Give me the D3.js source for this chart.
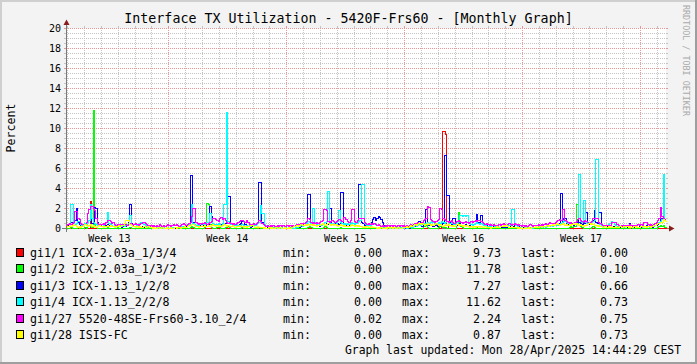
<!DOCTYPE html>
<html>
<head>
<meta charset="utf-8">
<script src="https://cdn.jsdelivr.net/npm/d3@7"></script>
<style>
  html, body { margin: 0; padding: 0; background: #f3f3f3; }
  svg { display: block; }
  text { font-family: "DejaVu Sans Mono", monospace; fill: #000; }
</style>
</head>
<body>
<svg width="697" height="364"></svg>
<script>
// 系列名・色・凡例の統計値
const seriesNames = ["gi1/1 ICX-2.03a_1/3/4", "gi1/2 ICX-2.03a_1/3/2", "gi1/3 ICX-1.13_1/2/8",
  "gi1/4 ICX-1.13_2/2/8", "gi1/27 5520-48SE-Frs60-3.10_2/4", "gi1/28 ISIS-FC"];
const seriesColors = ["#FF0000", "#00FF00", "#0000FF", "#00FFFF", "#FF00FF", "#FFFF00"];
const statMin = ["0.00", "0.00", "0.00", "0.00", "0.02", "0.00"];
const statMax = ["9.73", "11.78", "7.27", "11.62", "2.24", "0.87"];
const statLast = ["0.00", "0.10", "0.66", "0.73", "0.75", "0.73"];

// 軸の目盛り
const yTicks = [0, 2, 4, 6, 8, 10, 12, 14, 16, 18, 20];
const weekLabels = ["Week 13", "Week 14", "Week 15", "Week 16", "Week 17"];
const weekLabelDates = ["2025-03-26T12:00:00Z", "2025-04-02T12:00:00Z", "2025-04-09T12:00:00Z",
  "2025-04-16T12:00:00Z", "2025-04-23T12:00:00Z"];

// 表示期間（2時間ごとのデータ）
const startTime = new Date("2025-03-23T22:15:00Z");
const endTime = new Date("2025-04-28T13:02:00Z");
const stepHours = 2;

// 各インターフェースの値 (%)
const gi1_1 = [
  0, 0, 0, 0, 0, 0, 0, 0, 0, 0, 0, 0, 0, 0, 0, 0, 0, 2.7, 0, 0,
  0, 0, 0, 0, 0, 0, 0, 0, 0, 0, 0, 0, 0, 0, 0, 0, 0, 0, 0, 0,
  0, 0, 0, 0, 0, 0, 0, 0, 0, 0, 0, 0, 0, 0, 0, 0, 0, 0, 0, 0,
  0, 0, 0, 0, 0, 0, 0, 0, 0, 0, 0, 0, 0, 0, 0, 0, 0, 0, 0, 0,
  0, 0, 0, 0, 0, 0, 0, 0, 0, 0, 0, 0, 0, 0, 0, 0, 0, 0, 0, 0,
  0, 0, 0, 0, 0, 0, 0, 0, 0, 0, 0, 0, 0, 0, 0, 0, 0, 0, 0, 0,
  0, 0, 0, 0, 0, 0, 0, 0, 0, 0, 0, 0, 0, 0, 0, 0, 0, 0, 0, 0,
  0, 0, 0, 0, 0, 0, 0, 0, 0, 0, 0, 0, 0, 0, 0, 0, 0, 0, 0, 0,
  0, 0, 0, 0, 0, 0, 0, 0, 0, 0, 0, 0, 0, 0, 0, 0, 0, 0, 0, 0,
  0, 0, 0, 0, 0, 0, 0, 0, 0, 0, 0, 0, 0, 0, 0, 0, 0, 0, 0, 0,
  0, 0, 0, 0, 0, 0, 0, 0, 0, 0, 0, 0, 0, 0, 0, 0, 0, 0, 0, 0,
  0, 0, 0, 0, 0, 0, 0, 0, 0, 0, 0, 0, 0, 0, 0, 0, 0, 0, 0, 0,
  0, 0, 0, 0, 0, 0, 0, 0, 0, 0, 0, 0, 0, 0, 0, 0, 0, 0, 0, 0,
  0, 0, 0, 0, 0, 0, 0, 0.2, 9.7, 9.7, 9.4, 0.3, 0, 0, 0, 0, 0, 0, 0, 0,
  0, 0, 0, 0, 0, 0, 0, 0, 0, 0, 0, 0, 0, 0, 0, 0, 0, 0, 0, 0,
  0, 0, 0, 0, 0, 0, 0, 0, 0, 0, 0, 0, 0, 0, 0, 0, 0, 0, 0, 0,
  0, 0, 0, 0, 0, 0, 0, 0, 0, 0, 0, 0, 0, 0, 0, 0, 0, 0, 0, 0,
  0, 0, 0, 0, 0, 0, 0, 0, 0, 0, 0, 0, 0, 0, 0, 0, 0, 0, 0, 0,
  0, 0, 0, 0, 0, 0, 0, 0, 0, 0, 0, 0, 0, 0, 0, 0, 0, 0, 0, 0,
  0, 0, 0, 0, 0, 0, 0, 0, 0, 0, 0, 0, 0, 0, 0, 0, 0, 0, 0, 0,
  0, 0, 0, 0, 0, 0, 0, 0, 0, 0, 0, 0, 0, 0, 0, 0, 0, 0, 0, 0,
  0, 0, 0, 0, 0, 0, 0, 0];
const gi1_2 = [
  0, 0, 0, 0.1, 0, 0, 0, 0, 0.1, 0, 0, 0, 0, 0.1, 0, 0.2, 0.3, 0.2, 0.1, 11.8,
  0.3, 0.1, 0, 0, 0, 0, 0, 0, 0, 0.1, 0, 0, 0, 0, 0, 0, 0.1, 0, 0, 0,
  0, 0, 0, 0, 0, 0.1, 0, 0, 0, 0, 0, 0, 0, 0, 0, 0, 0, 0, 0, 0,
  0, 0, 0, 0, 0, 0, 0, 0, 0, 0, 0, 0, 0, 0, 0, 0, 0, 0, 0, 0,
  0, 0, 0, 0, 0, 0, 0, 0, 0.1, 0.2, 0.1, 0, 0, 0, 0, 0, 0, 0, 0.1, 0.3,
  2.5, 2.4, 0.4, 0.1, 0, 0, 0, 0.1, 0.1, 0.2, 0, 0, 0, 0.1, 0.1, 0.2, 0.1, 0, 0, 0,
  0, 0, 0, 0, 0, 0.1, 0, 0, 0, 0, 0, 0, 0, 0, 0, 0, 0, 0.1, 0, 0,
  0, 0, 0, 0, 0, 0, 0, 0, 0, 0, 0, 0, 0, 0, 0, 0, 0, 0, 0, 0,
  0, 0, 0, 0, 0, 0, 0, 0, 0, 0, 0, 0, 0.1, 0.2, 0.1, 0, 0, 0, 0, 0,
  0, 0, 0, 0.1, 0.2, 0.1, 0, 0, 0, 0, 0, 0, 0, 0, 0, 0.1, 0, 0, 0, 0,
  0, 0, 0, 0, 0, 0, 0, 0, 0, 0, 0, 0, 0, 0, 0, 0, 0, 0, 0, 0,
  0, 0, 0, 0, 0, 0, 0, 0, 0, 0, 0, 0, 0, 0, 0, 0, 0, 0, 0, 0,
  0, 0, 0, 0, 0, 0, 0, 0, 0, 0, 0, 0, 0, 0, 0.2, 0.2, 0.3, 0.1, 0, 0,
  0, 0, 0, 0, 0, 0.1, 0.2, 0.3, 0.1, 0.1, 0.1, 0, 0, 0, 0, 0, 0, 0, 0.4, 1.6,
  0.3, 0.2, 0.1, 0, 0, 0, 0, 0, 0, 0, 0, 0, 0.1, 0, 0, 0, 0, 0, 0, 0,
  0, 0, 0, 0, 0, 0, 0, 0, 0, 0, 0, 0, 0, 0, 0, 0, 0, 0.1, 0, 0,
  0, 0, 0, 0, 0, 0, 0, 0, 0, 0, 0, 0, 0, 0, 0, 0, 0, 0, 0, 0,
  0, 0, 0, 0, 0, 0, 0, 0, 0, 0, 0, 0, 0, 0, 0, 0, 0, 0, 0.1, 0.2,
  0.1, 0.3, 0.2, 2.4, 2.4, 0.3, 0.2, 0.1, 0, 0, 0, 0, 0, 0, 0.1, 0.2, 0.1, 0, 0, 0,
  0, 0, 0, 0, 0, 0, 0, 0, 0, 0, 0, 0, 0, 0, 0, 0, 0, 0, 0, 0,
  0, 0, 0.1, 0, 0, 0, 0, 0, 0, 0, 0, 0, 0, 0, 0, 0, 0, 0, 0, 0,
  0, 0.1, 0.2, 0.3, 0.2, 0.3, 0.1, 0.1];
const gi1_3 = [
  0.2, 0.3, 0.4, 0.6, 0.5, 0.4, 0.8, 2.0, 0.6, 0.4, 0.3, 0.2, 0.3, 0.4, 0.5, 0.6, 0.8, 0.9, 0.5, 0.7,
  2.1, 2.0, 0.6, 0.4, 0.3, 0.2, 0.3, 0.2, 0.3, 0.4, 0.3, 0.2, 0.3, 0.2, 0.1, 0.2, 0.3, 0.2, 0.2, 0.1,
  0.2, 0.3, 0.2, 0.4, 0.6, 2.4, 0.5, 0.3, 0.2, 0.1, 0.2, 0.3, 0.2, 0.1, 0.2, 0.1, 0.2, 0.1, 0.1, 0.1,
  0.1, 0, 0.1, 0, 0, 0.1, 0, 0, 0.1, 0, 0, 0.1, 0, 0, 0.1, 0, 0.1, 0, 0.1, 0.1,
  0.1, 0.2, 0.1, 0.2, 0.1, 0.2, 0.3, 0.4, 5.3, 5.3, 0.6, 0.4, 0.3, 0.2, 0.2, 0.3, 0.4, 0.3, 0.2, 0.3,
  0.4, 0.3, 2.2, 1.2, 0.5, 0.3, 0.2, 0.3, 0.2, 0.3, 0.4, 0.3, 0.4, 0.5, 0.6, 3.2, 3.2, 0.4, 0.3, 0.2,
  0.3, 0.2, 0.3, 0.4, 0.5, 0.7, 0.7, 0.4, 0.3, 0.2, 0.2, 0.1, 0.2, 0.3, 0.4, 0.5, 0.6, 4.6, 4.6, 0.6,
  0.5, 0.4, 0.2, 0.1, 0.1, 0, 0.1, 0, 0, 0.1, 0, 0, 0.1, 0, 0, 0.1, 0, 0, 0, 0.1,
  0, 0.1, 0, 0.1, 0.1, 0.2, 0.1, 0.2, 0.2, 0.3, 0.4, 0.6, 3.4, 3.4, 0.5, 0.4, 0.5, 0.3, 0.2, 0.3,
  0.2, 0.3, 0.4, 0.5, 0.6, 0.5, 0.4, 2.0, 2.0, 0.4, 0.3, 0.5, 0.6, 0.5, 0.4, 3.6, 3.6, 0.5, 0.4, 0.3,
  0.4, 0.3, 0.5, 0.4, 0.3, 0.4, 0.5, 0.6, 4.4, 4.4, 0.6, 0.5, 0.3, 0.2, 0.3, 0.4, 0.3, 0.6, 0.9, 1.1,
  0.8, 1.0, 1.2, 1.1, 0.9, 0.6, 0.3, 0.2, 0.1, 0.1, 0, 0.1, 0, 0, 0.1, 0, 0, 0.1, 0, 0,
  0.1, 0, 0, 0.1, 0, 0.1, 0.1, 0.2, 0.2, 0.3, 0.4, 0.7, 0.3, 0.2, 0.3, 0.4, 1.9, 0.5, 0.3, 0.4,
  0.3, 0.2, 0.4, 0.3, 0.2, 0.4, 0.5, 0.4, 0.5, 7.3, 7.3, 3.3, 3.3, 0.6, 0.4, 1.0, 1.0, 0.5, 0.3, 0.4,
  0.5, 0.3, 0.2, 0.3, 0.4, 0.3, 0.2, 0.3, 0.4, 0.3, 0.4, 0.5, 1.4, 0.6, 0.5, 1.3, 0.4, 0.3, 0.2, 0.3,
  0.2, 0.1, 0.2, 0.1, 0.2, 0.1, 0.2, 0.1, 0.1, 0.2, 0.1, 0.1, 0.2, 0.1, 0.2, 0.3, 0.2, 0.3, 0.2, 0.4,
  0.3, 0.2, 0.2, 0.1, 0.1, 0.1, 0, 0.1, 0, 0.1, 0.1, 0, 0.1, 0.1, 0.2, 0.1, 0.1, 0.2, 0.1, 0.2,
  0.2, 0.1, 0.2, 0.3, 0.2, 0.3, 0.2, 0.3, 0.4, 0.3, 0.4, 0.5, 3.5, 0.6, 1.0, 1.0, 0.5, 0.4, 0.3, 0.3,
  0.4, 0.3, 0.4, 0.5, 0.8, 0.6, 0.5, 0.4, 0.6, 0.5, 1.6, 0.5, 0.4, 0.5, 0.6, 0.8, 1.8, 0.6, 0.5, 1.6,
  1.6, 0.4, 0.3, 0.2, 0.3, 0.2, 0.2, 0.3, 0.2, 0.2, 0.1, 0.2, 0.1, 0.2, 0.1, 0.1, 0.2, 0.1, 0.2, 0.1,
  0.2, 0.5, 0.3, 0.2, 0.1, 0.2, 0.1, 0.1, 0.2, 0.1, 0.2, 0.1, 0.2, 0.3, 0.2, 0.1, 0.2, 0.1, 0.2, 0.3,
  0.3, 0.4, 0.6, 0.9, 1.0, 1.7, 0.8, 0.66];
const gi1_4 = [
  0.3, 0.4, 0.5, 2.4, 2.4, 0.6, 0.4, 0.5, 0.7, 0.7, 0.4, 0.3, 0.4, 0.5, 0.4, 0.6, 0.8, 2.4, 1.0, 0.6,
  0.5, 0.4, 0.3, 0.4, 0.3, 0.2, 0.3, 0.4, 0.6, 1.6, 0.5, 0.4, 0.3, 0.2, 0.3, 0.2, 0.3, 0.2, 0.3, 0.2,
  0.3, 0.2, 0.3, 0.4, 0.5, 1.3, 0.4, 0.3, 0.2, 0.2, 0.3, 0.4, 0.5, 0.6, 0.6, 0.4, 0.3, 0.2, 0.1, 0.1,
  0.1, 0, 0.1, 0, 0.1, 0, 0, 0.1, 0, 0.1, 0, 0, 0.1, 0, 0, 0.1, 0, 0.1, 0, 0.1,
  0.1, 0.1, 0.2, 0.1, 0.2, 0.3, 0.2, 0.4, 0.6, 2.4, 0.5, 0.4, 0.3, 0.4, 0.3, 0.4, 0.5, 0.4, 0.3, 0.5,
  0.6, 0.5, 1.5, 0.8, 0.5, 0.4, 0.3, 0.4, 0.5, 0.4, 0.3, 0.5, 2.4, 2.4, 11.6, 0.7, 0.5, 0.4, 0.3, 0.4,
  0.3, 0.4, 0.3, 0.2, 0.3, 0.4, 0.3, 0.2, 0.3, 0.2, 0.3, 0.2, 0.3, 0.4, 0.3, 0.4, 0.5, 0.6, 2.3, 1.5,
  1.5, 0.4, 0.3, 0.2, 0.1, 0.1, 0, 0.1, 0, 0, 0.1, 0, 0, 0.1, 0, 0, 0.1, 0, 0, 0.1,
  0, 0.1, 0, 0.1, 0.1, 0.2, 0.2, 0.3, 0.2, 0.3, 0.4, 0.5, 0.7, 0.6, 0.5, 2.0, 2.0, 0.6, 0.4, 0.3,
  0.4, 0.3, 0.4, 0.5, 0.6, 0.7, 3.7, 0.6, 0.5, 0.4, 0.5, 0.6, 0.5, 0.7, 1.8, 0.6, 0.5, 0.4, 0.5, 0.4,
  0.5, 0.4, 0.5, 0.6, 0.5, 0.4, 0.5, 0.6, 0.7, 0.8, 4.4, 4.4, 0.5, 0.4, 0.3, 0.4, 0.3, 0.4, 0.5, 0.4,
  0.4, 0.3, 0.4, 0.3, 0.2, 0.2, 0.1, 0.1, 0, 0.1, 0, 0, 0.1, 0, 0, 0.1, 0, 0, 0.1, 0,
  0, 0.1, 0, 0.1, 0.1, 0.2, 0.1, 0.2, 0.3, 0.2, 0.3, 0.4, 0.3, 0.4, 0.5, 0.4, 0.5, 0.6, 0.5, 0.6,
  0.8, 0.6, 0.5, 0.4, 0.5, 0.6, 0.5, 0.7, 0.6, 0.5, 0.6, 0.7, 0.6, 0.5, 0.6, 0.5, 0.4, 0.5, 0.6, 0.7,
  1.3, 1.3, 1.2, 1.3, 1.2, 1.3, 0.6, 0.5, 0.4, 0.3, 0.4, 0.5, 0.6, 0.5, 0.4, 0.5, 0.4, 0.3, 0.3, 0.2,
  0.2, 0.1, 0.2, 0.1, 0.1, 0.2, 0.1, 0.2, 0.1, 0.2, 0.2, 0.3, 0.2, 0.3, 0.4, 0.3, 0.4, 1.9, 1.9, 0.4,
  0.3, 0.2, 0.1, 0.1, 0.1, 0, 0.1, 0, 0.1, 0, 0.1, 0.1, 0, 0.1, 0.1, 0.1, 0.2, 0.1, 0.2, 0.1,
  0.2, 0.1, 0.2, 0.3, 0.2, 0.3, 0.2, 0.3, 0.4, 0.3, 0.3, 0.4, 0.5, 0.6, 0.8, 0.7, 0.6, 0.5, 0.4, 0.3,
  0.4, 0.5, 0.6, 0.7, 0.9, 5.4, 0.7, 0.6, 2.8, 2.8, 0.6, 0.5, 0.6, 0.5, 0.6, 0.7, 0.8, 6.9, 6.9, 0.6,
  0.4, 0.3, 0.2, 0.3, 0.2, 0.3, 0.4, 0.5, 0.7, 0.6, 0.4, 0.3, 0.2, 0.1, 0.2, 0.1, 0.2, 0.1, 0.1, 0.2,
  0.1, 0.2, 0.1, 0.1, 0.2, 0.1, 0.2, 0.1, 0.1, 0.2, 0.1, 0.1, 0.2, 0.1, 0.2, 0.1, 0.2, 0.3, 0.2, 0.3,
  0.4, 0.5, 0.6, 0.7, 0.9, 5.4, 0.9, 0.73];
const gi1_27 = [
  0.3, 0.4, 0.5, 0.4, 0.5, 0.6, 1.7, 1.7, 1.0, 0.9, 0.5, 0.4, 0.3, 0.4, 0.6, 1.5, 1.9, 2.2, 2.2, 2.0,
  1.8, 1.0, 0.5, 0.4, 0.3, 0.4, 0.5, 0.4, 0.6, 0.8, 0.8, 0.7, 0.5, 0.6, 0.4, 0.3, 0.4, 0.3, 0.4, 0.3,
  0.4, 0.5, 0.4, 0.3, 0.4, 0.5, 0.4, 0.3, 0.4, 0.5, 0.4, 0.3, 0.4, 0.5, 0.6, 0.6, 0.5, 0.4, 0.3, 0.2,
  0.3, 0.2, 0.3, 0.2, 0.3, 0.2, 0.4, 0.3, 0.2, 0.3, 0.2, 0.3, 0.4, 0.3, 0.2, 0.3, 0.4, 0.3, 0.4, 0.3,
  0.2, 0.3, 0.4, 0.5, 0.4, 0.3, 0.4, 0.5, 0.6, 1.2, 2.0, 2.0, 0.6, 0.5, 0.4, 0.5, 0.4, 0.5, 0.6, 0.5,
  0.4, 0.5, 0.6, 0.7, 1.0, 1.0, 0.9, 0.8, 0.7, 1.0, 1.1, 0.9, 1.0, 0.8, 0.6, 0.5, 0.6, 0.5, 0.4, 0.5,
  0.4, 0.5, 0.6, 0.7, 0.8, 0.8, 0.7, 0.6, 0.8, 0.6, 0.4, 0.3, 0.4, 0.5, 0.4, 0.5, 0.6, 0.8, 0.7, 0.5,
  0.4, 0.3, 0.2, 0.3, 0.2, 0.3, 0.2, 0.3, 0.2, 0.2, 0.3, 0.2, 0.3, 0.2, 0.3, 0.2, 0.2, 0.3, 0.2, 0.3,
  0.2, 0.3, 0.2, 0.3, 0.4, 0.3, 0.4, 0.5, 0.4, 0.5, 0.6, 0.7, 1.0, 0.9, 0.6, 0.5, 0.6, 0.5, 0.6, 0.5,
  0.6, 0.7, 0.8, 1.9, 1.9, 1.8, 0.7, 0.6, 0.7, 0.8, 0.7, 0.6, 0.7, 0.8, 0.9, 0.8, 0.7, 1.1, 1.1, 0.9,
  0.7, 0.6, 0.8, 1.9, 1.9, 0.7, 0.6, 0.8, 1.0, 1.0, 1.0, 1.0, 0.6, 0.5, 0.4, 0.5, 0.4, 0.5, 0.4, 0.5,
  0.4, 0.3, 0.4, 0.3, 0.2, 0.3, 0.2, 0.3, 0.2, 0.3, 0.2, 0.3, 0.2, 0.3, 0.2, 0.2, 0.3, 0.2, 0.3, 0.2,
  0.3, 0.2, 0.3, 0.2, 0.3, 0.4, 0.3, 0.4, 0.5, 0.4, 0.6, 0.5, 0.4, 0.6, 0.8, 0.9, 1.0, 2.2, 2.1, 0.9,
  0.8, 0.7, 0.6, 0.7, 0.8, 0.9, 2.0, 1.9, 1.0, 0.9, 0.8, 0.7, 0.6, 0.7, 0.8, 0.6, 0.5, 0.6, 0.7, 0.8,
  0.7, 0.6, 0.5, 0.6, 0.7, 0.6, 0.5, 0.6, 0.7, 0.6, 0.7, 0.8, 0.7, 0.8, 0.8, 0.7, 0.6, 0.5, 0.4, 0.5,
  0.4, 0.3, 0.4, 0.3, 0.4, 0.3, 0.2, 0.3, 0.4, 0.3, 0.4, 0.5, 0.4, 0.3, 0.4, 0.5, 0.4, 0.3, 0.4, 0.5,
  0.4, 0.3, 0.4, 0.3, 0.2, 0.3, 0.2, 0.3, 0.2, 0.3, 0.4, 0.3, 0.2, 0.3, 0.2, 0.3, 0.4, 0.3, 0.4, 0.3,
  0.4, 0.5, 0.4, 0.5, 0.6, 0.5, 0.4, 0.5, 0.6, 0.7, 0.8, 0.9, 0.8, 1.9, 1.9, 0.8, 0.7, 0.6, 0.5, 0.6,
  0.5, 0.4, 0.6, 0.7, 0.9, 1.0, 0.8, 0.7, 0.6, 0.8, 0.7, 0.6, 0.5, 0.6, 0.7, 1.0, 1.0, 1.0, 1.0, 0.6,
  0.5, 0.4, 0.3, 0.3, 0.2, 0.3, 0.2, 0.3, 0.6, 0.6, 0.6, 0.6, 0.4, 0.3, 0.2, 0.3, 0.2, 0.3, 0.2, 0.3,
  0.3, 0.4, 0.3, 0.2, 0.3, 0.2, 0.3, 0.4, 0.3, 0.4, 0.3, 0.6, 0.6, 0.6, 0.4, 0.3, 0.4, 0.3, 0.4, 0.5,
  0.6, 0.8, 1.0, 2.1, 1.2, 1.0, 0.9, 0.75];
const gi1_28 = [
  0.1, 0.2, 0.3, 0.2, 0.3, 0.4, 0.3, 0.2, 0.1, 0.2, 0.1, 0.2, 0.3, 0.4, 0.3, 0.2, 0.3, 0.4, 0.2, 0.3,
  0.2, 0.1, 0.2, 0.3, 0.2, 0.2, 0.1, 0.2, 0.2, 0.3, 0.2, 0.3, 0.2, 0.2, 0.1, 0.2, 0.2, 0.3, 0.2, 0.3,
  0.3, 0.5, 0.8, 0.8, 0.8, 0.4, 0.3, 0.2, 0.2, 0.1, 0.2, 0.1, 0.2, 0.1, 0.1, 0.2, 0.1, 0.1, 0.2, 0.1,
  0.1, 0, 0.1, 0, 0, 0.1, 0, 0, 0.1, 0, 0, 0.1, 0, 0, 0.1, 0, 0, 0.1, 0, 0.1,
  0.1, 0, 0.1, 0.1, 0.2, 0.1, 0.2, 0.3, 0.3, 0.4, 0.4, 0.3, 0.2, 0.2, 0.1, 0.2, 0.3, 0.2, 0.3, 0.2,
  0.2, 0.3, 0.2, 0.3, 0.4, 0.3, 0.2, 0.3, 0.2, 0.3, 0.2, 0.3, 0.4, 0.3, 0.2, 0.3, 0.2, 0.2, 0.3, 0.2,
  0.1, 0.2, 0.2, 0.3, 0.2, 0.2, 0.1, 0.2, 0.1, 0.2, 0.2, 0.3, 0.3, 0.2, 0.1, 0.1, 0.2, 0.1, 0.1, 0.1,
  0, 0.1, 0, 0, 0.1, 0, 0.1, 0, 0, 0.1, 0, 0, 0.1, 0, 0, 0.1, 0, 0, 0.1, 0,
  0.1, 0.1, 0.2, 0.2, 0.3, 0.2, 0.3, 0.4, 0.3, 0.3, 0.4, 0.3, 0.4, 0.3, 0.4, 0.3, 0.4, 0.3, 0.2, 0.3,
  0.3, 0.4, 0.5, 0.4, 0.3, 0.4, 0.5, 0.4, 0.3, 0.4, 0.3, 0.4, 0.3, 0.2, 0.3, 0.4, 0.3, 0.2, 0.3, 0.2,
  0.3, 0.2, 0.3, 0.4, 0.3, 0.2, 0.3, 0.2, 0.3, 0.2, 0.2, 0.1, 0.2, 0.1, 0.2, 0.1, 0.1, 0.2, 0.1, 0.1,
  0.1, 0, 0.1, 0, 0.1, 0, 0, 0.1, 0, 0.1, 0, 0.1, 0, 0.1, 0, 0, 0.1, 0, 0, 0.1,
  0.1, 0.1, 0.2, 0.1, 0.2, 0.3, 0.2, 0.3, 0.4, 0.3, 0.4, 0.5, 0.4, 0.5, 0.4, 0.3, 0.4, 0.5, 0.4, 0.3,
  0.4, 0.3, 0.4, 0.5, 0.4, 0.3, 0.4, 0.3, 0.2, 0.3, 0.4, 0.3, 0.4, 0.3, 0.2, 0.3, 0.2, 0.3, 0.4, 0.3,
  0.4, 0.3, 0.2, 0.3, 0.2, 0.3, 0.2, 0.1, 0.2, 0.1, 0.2, 0.1, 0.2, 0.2, 0.1, 0.2, 0.1, 0.1, 0.2, 0.1,
  0.1, 0.1, 0, 0.1, 0.1, 0.1, 0.2, 0.1, 0.1, 0.2, 0.2, 0.3, 0.2, 0.3, 0.2, 0.1, 0.1, 0.2, 0.1, 0.1,
  0.1, 0, 0.1, 0, 0.1, 0, 0, 0.1, 0, 0.1, 0, 0.1, 0.1, 0.1, 0.2, 0.1, 0.1, 0.2, 0.1, 0.2,
  0.2, 0.2, 0.3, 0.2, 0.3, 0.3, 0.4, 0.3, 0.4, 0.5, 0.4, 0.3, 0.4, 0.5, 0.4, 0.3, 0.4, 0.3, 0.4, 0.3,
  0.4, 0.5, 0.4, 0.5, 0.4, 0.3, 0.4, 0.3, 0.2, 0.3, 0.3, 0.4, 0.5, 0.4, 0.5, 0.4, 0.3, 0.3, 0.2, 0.3,
  0.2, 0.2, 0.1, 0.2, 0.2, 0.1, 0.2, 0.1, 0.2, 0.1, 0.1, 0.2, 0.1, 0.1, 0.2, 0.1, 0.1, 0.2, 0.1, 0.2,
  0.1, 0.2, 0.1, 0.1, 0.2, 0.1, 0.2, 0.1, 0.1, 0.2, 0.2, 0.1, 0.2, 0.1, 0.2, 0.2, 0.1, 0.2, 0.3, 0.3,
  0.4, 0.5, 0.5, 0.6, 0.6, 0.87, 0.8, 0.73];
const seriesValues = [gi1_1, gi1_2, gi1_3, gi1_4, gi1_27, gi1_28];

// 描画領域
const W = 697, H = 364;
const plot = { left: 66, top: 28, width: 600, height: 200 };
const plotRight = plot.left + plot.width;
const plotBottom = plot.top + plot.height;

const svg = d3.select("svg");

// 背景と枠
svg.append("rect").attr("width", W).attr("height", H).attr("fill", "#f3f3f3");
svg.append("rect").attr("x", 0).attr("y", 0).attr("width", W).attr("height", 2).attr("fill", "#cfcfcf");
svg.append("rect").attr("x", 0).attr("y", 0).attr("width", 2).attr("height", H).attr("fill", "#cfcfcf");
svg.append("rect").attr("x", 0).attr("y", H - 2).attr("width", W).attr("height", 2).attr("fill", "#9e9e9e");
svg.append("rect").attr("x", W - 2).attr("y", 0).attr("width", 2).attr("height", H).attr("fill", "#9e9e9e");

svg.append("rect")
  .attr("x", plot.left).attr("y", plot.top)
  .attr("width", plot.width).attr("height", plot.height)
  .attr("fill", "#ffffff");

// スケール
const x = d3.scaleUtc().domain([startTime, endTime]).range([plot.left, plotRight]);
const y = d3.scaleLinear().domain([0, 20]).range([plotBottom + 0.5, plot.top + 0.5]);
const px = v => Math.round(x(v)) + 0.5;
const py = v => Math.floor(y(v)) + 0.5;

const minorCol = "#c4c4c4";
const majorCol = "#eb9595";

// 横のグリッド線
const grid = svg.append("g").attr("shape-rendering", "crispEdges");
const yMinor = d3.range(1, 41).map(d => d / 2).filter(d => d % 2 !== 0);
yMinor.forEach(v => {
  grid.append("line").attr("x1", plot.left - 2).attr("x2", plot.left).attr("y1", py(v)).attr("y2", py(v)).attr("stroke", minorCol);
  grid.append("line").attr("x1", plotRight).attr("x2", plotRight + 2).attr("y1", py(v)).attr("y2", py(v)).attr("stroke", minorCol);
  grid.append("line").attr("x1", plot.left).attr("x2", plotRight).attr("y1", py(v)).attr("y2", py(v))
    .attr("stroke", minorCol).attr("stroke-dasharray", "1,1");
});

// 縦のグリッド線（日ごと・週ごと）
const days = d3.utcDay.range(startTime, endTime);
const weeks = d3.utcSunday.range(startTime, endTime);
const isWeek = d => weeks.some(w => +w === +d);
days.filter(d => !isWeek(d)).forEach(d => {
  grid.append("line").attr("x1", px(d)).attr("x2", px(d)).attr("y1", plotBottom).attr("y2", plotBottom + 2).attr("stroke", minorCol);
  grid.append("line").attr("x1", px(d)).attr("x2", px(d)).attr("y1", plot.top - 2).attr("y2", plot.top).attr("stroke", minorCol);
  grid.append("line").attr("x1", px(d)).attr("x2", px(d)).attr("y1", plot.top).attr("y2", plotBottom)
    .attr("stroke", minorCol).attr("stroke-dasharray", "1,1");
});

yTicks.filter(v => v > 0).forEach(v => {
  grid.append("line").attr("x1", plot.left - 2).attr("x2", plot.left).attr("y1", py(v)).attr("y2", py(v)).attr("stroke", majorCol);
  grid.append("line").attr("x1", plotRight).attr("x2", plotRight + 2).attr("y1", py(v)).attr("y2", py(v)).attr("stroke", majorCol);
  grid.append("line").attr("x1", plot.left).attr("x2", plotRight).attr("y1", py(v)).attr("y2", py(v))
    .attr("stroke", majorCol).attr("stroke-dasharray", "1,1");
});
weeks.forEach(d => {
  grid.append("line").attr("x1", px(d)).attr("x2", px(d)).attr("y1", plotBottom).attr("y2", plotBottom + 2).attr("stroke", majorCol);
  grid.append("line").attr("x1", px(d)).attr("x2", px(d)).attr("y1", plot.top - 2).attr("y2", plot.top).attr("stroke", majorCol);
  grid.append("line").attr("x1", px(d)).attr("x2", px(d)).attr("y1", plot.top).attr("y2", plotBottom)
    .attr("stroke", majorCol).attr("stroke-dasharray", "1,1");
});

// Y軸の目盛りラベル
svg.append("g").selectAll("text")
  .data(yTicks)
  .enter().append("text")
  .attr("x", plot.left - 5)
  .attr("y", d => py(d) + 3.5)
  .attr("text-anchor", "end")
  .attr("font-size", "10px")
  .text(d => d);

// X軸の週ラベル
svg.append("g").selectAll("text")
  .data(weekLabels)
  .enter().append("text")
  .attr("x", (d, i) => x(new Date(weekLabelDates[i])))
  .attr("y", plotBottom + 13.5)
  .attr("text-anchor", "middle")
  .attr("font-size", "10px")
  .text(d => d);

// 軸と矢印
const axisCol = "#7a7a7a";
const arrowCol = "#8b1c1c";
svg.append("line").attr("x1", plot.left - 4).attr("x2", plotRight + 4)
  .attr("y1", plotBottom + 0.5).attr("y2", plotBottom + 0.5).attr("stroke", axisCol);
svg.append("line").attr("x1", plot.left + 0.5).attr("x2", plot.left + 0.5)
  .attr("y1", plotBottom + 4).attr("y2", plot.top - 4).attr("stroke", axisCol);
svg.append("path")
  .attr("d", `M${plotRight + 3},${plotBottom - 2.5}L${plotRight + 8.5},${plotBottom + 0.5}L${plotRight + 3},${plotBottom + 3.5}Z`)
  .attr("fill", arrowCol);
svg.append("path")
  .attr("d", `M${plot.left - 2.5},${plot.top - 3}L${plot.left + 0.5},${plot.top - 8.5}L${plot.left + 3.5},${plot.top - 3}Z`)
  .attr("fill", arrowCol);

// 折れ線（RRDtool風の階段状）
svg.append("clipPath").attr("id", "plotClip")
  .append("rect").attr("x", plot.left).attr("y", plot.top - 1)
  .attr("width", plot.width + 1).attr("height", plot.height + 2);

const line = d3.line()
  .x(d => px(d.t))
  .y(d => py(d.v))
  .curve(d3.curveStepAfter);

const lines = svg.append("g").attr("clip-path", "url(#plotClip)");
seriesValues.forEach((vals, s) => {
  const pts = vals.map((v, i) => ({ t: new Date(+startTime + i * stepHours * 3600e3), v: v }));
  pts.push({ t: endTime, v: vals[vals.length - 1] });
  lines.append("path")
    .datum(pts)
    .attr("d", line)
    .attr("fill", "none")
    .attr("stroke", seriesColors[s])
    .attr("stroke-width", 1)
    .attr("shape-rendering", "crispEdges");
});

// タイトル
svg.append("text")
  .attr("x", 348.5).attr("y", 23)
  .attr("text-anchor", "middle")
  .attr("font-size", "13.3px")
  .text("Interface TX Utilization - 5420F-Frs60 - [Monthly Graph]");

// 縦軸タイトル
svg.append("text")
  .attr("transform", "translate(14.5,128) rotate(-90)")
  .attr("text-anchor", "middle")
  .attr("font-size", "11.6px")
  .text("Percent");

// 右側の透かし
svg.append("text")
  .attr("transform", "translate(683,5) rotate(90)")
  .attr("font-size", "8.4px")
  .style("fill", "#aaaaaa")
  .text("RRDTOOL / TOBI OETIKER");

// 凡例
const legend = svg.append("g").attr("font-size", "11.6px");
const rowY = i => 257 + i * 16.4;
seriesNames.forEach((name, i) => {
  legend.append("rect")
    .attr("x", 16.5).attr("y", Math.round(rowY(i)) - 8.5)
    .attr("width", 7).attr("height", 8)
    .attr("fill", seriesColors[i]).attr("stroke", "#000")
    .attr("shape-rendering", "crispEdges");
  legend.append("text").attr("x", 30).attr("y", rowY(i)).text(name);
  legend.append("text").attr("x", 283).attr("y", rowY(i)).text("min:");
  legend.append("text").attr("x", 382).attr("y", rowY(i)).attr("text-anchor", "end").text(statMin[i]);
  legend.append("text").attr("x", 402).attr("y", rowY(i)).text("max:");
  legend.append("text").attr("x", 501).attr("y", rowY(i)).attr("text-anchor", "end").text(statMax[i]);
  legend.append("text").attr("x", 521).attr("y", rowY(i)).text("last:");
  legend.append("text").attr("x", 628).attr("y", rowY(i)).attr("text-anchor", "end").text(statLast[i]);
});

// 更新日時
svg.append("text")
  .attr("x", 681).attr("y", 354)
  .attr("text-anchor", "end")
  .attr("font-size", "11.4px")
  .text("Graph last updated: Mon 28/Apr/2025 14:44:29 CEST");
</script>
</body>
</html>
